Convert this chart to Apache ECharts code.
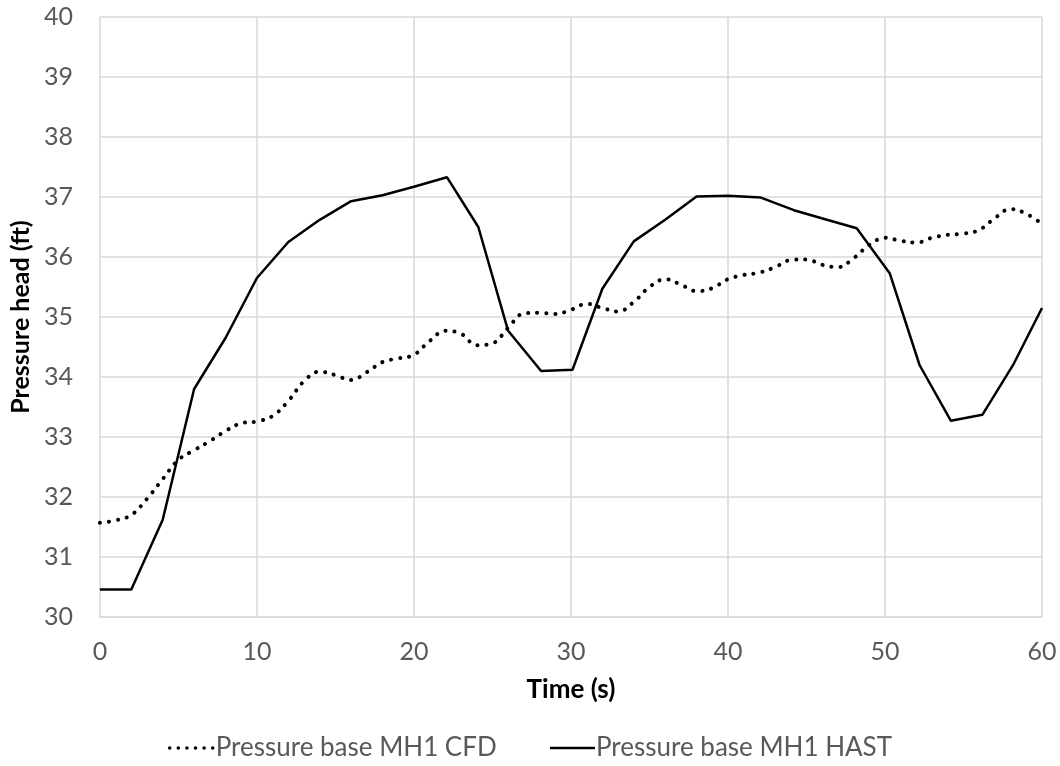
<!DOCTYPE html>
<html>
<head>
<meta charset="utf-8">
<script src="https://cdn.jsdelivr.net/npm/echarts@6/dist/echarts.min.js"></script>
<style>
  html, body { margin: 0; padding: 0; background: #fff; }
  #chart { width: 1060px; height: 766px; }
</style>
</head>
<body>
<div id="chart"></div>
<script>
// pressure head at the base of MH1, CFD vs HAST
const cfdTime = [0, 1, 2, 3, 4, 5, 6, 7, 8, 9, 10, 11, 12, 13, 14, 15, 16, 17, 18, 19, 20,
  21, 22, 23, 24, 25, 26, 27, 28, 29, 30, 31, 32, 33, 34, 35, 36, 37, 38, 39, 40,
  41, 42, 43, 44, 45, 46, 47, 48, 49, 50, 51, 52, 53, 54, 55, 56, 57, 58, 59, 60];
const cfdValue = [31.57, 31.61, 31.7, 31.97, 32.3, 32.62, 32.78, 32.93, 33.1, 33.23, 33.26,
  33.35, 33.6, 33.93, 34.09, 34.03, 33.95, 34.08, 34.25, 34.31, 34.37,
  34.6, 34.77, 34.72, 34.53, 34.56, 34.82, 35.06, 35.07, 35.05, 35.12,
  35.22, 35.15, 35.09, 35.25, 35.5, 35.63, 35.54, 35.43, 35.48, 35.63,
  35.7, 35.74, 35.83, 35.95, 35.96, 35.87, 35.83, 35.98, 36.2, 36.32,
  36.27, 36.24, 36.32, 36.37, 36.39, 36.45, 36.65, 36.8, 36.72, 36.55];

const hastTime = [0, 2, 4, 6, 8, 10, 12, 14, 16, 18, 20, 22.1, 24.1, 26, 28.1, 30.1,
  32, 34, 36, 38, 40, 42.1, 44.2, 46.3, 48.2, 50.3, 52.2, 54.2, 56.2, 58.2, 60];
const hastValue = [30.46, 30.46, 31.62, 33.8, 34.65, 35.65, 36.25, 36.62, 36.93, 37.03, 37.17,
  37.33, 36.5, 34.77, 34.1, 34.12, 35.47, 36.26, 36.62, 37.01, 37.02,
  36.99, 36.78, 36.62, 36.48, 35.73, 34.2, 33.27, 33.37, 34.22, 35.15];

const seriesNames = ["Pressure base MH1 CFD", "Pressure base MH1 HAST"];

const font = "Lato, 'Open Sans', sans-serif";
const pair = (xs, ys) => xs.map((x, i) => [x, ys[i]]);
const dotted = { color: "#000", width: 4, type: [0.1, 9], cap: "round" };
const solid = { color: "#000", width: 2.5 };

const chart = echarts.init(document.getElementById("chart"));
chart.setOption({
    animation: false,
    textStyle: { fontFamily: font },
    grid: { left: 98, right: 18, top: 17, bottom: 149 },
    legend: {
        bottom: 0,
        left: "center",
        itemWidth: 45,
        itemHeight: 12,
        itemGap: 52,
        itemStyle: { opacity: 0 },
        textStyle: { fontSize: 26, color: "#595959", fontFamily: font, padding: [0, 0, 0, -4] },
        data: [
            { name: seriesNames[0], lineStyle: { ...dotted, width: 3.5, type: [0.1, 8.5] } },
            { name: seriesNames[1], lineStyle: solid },
        ],
    },
    xAxis: {
        type: "value",
        min: 0,
        max: 60,
        interval: 10,
        name: "Time (s)",
        nameLocation: "middle",
        nameGap: 60,
        nameTextStyle: { fontSize: 26, fontWeight: "bold", color: "#000", fontFamily: font },
        axisLine: { show: true, lineStyle: { color: "#d9d9d9", width: 1.5 } },
        axisTick: { show: false },
        axisLabel: { fontSize: 25, color: "#595959", margin: 22, fontFamily: font },
        splitLine: { show: true, lineStyle: { color: "#d9d9d9", width: 1.5 } },
    },
    yAxis: {
        type: "value",
        min: 30,
        max: 40,
        interval: 1,
        name: "Pressure head (ft)",
        nameLocation: "middle",
        nameGap: 62,
        nameTextStyle: { fontSize: 25, fontWeight: "bold", color: "#000", fontFamily: font },
        axisLine: { show: false },
        axisTick: { show: false },
        axisLabel: { fontSize: 25, color: "#595959", margin: 27, fontFamily: font },
        splitLine: { show: true, lineStyle: { color: "#d9d9d9", width: 1.5 } },
    },
    series: [
        {
            name: seriesNames[0],
            type: "line",
            data: pair(cfdTime, cfdValue),
            smooth: 0.4,
            symbol: "none",
            lineStyle: dotted,
            itemStyle: { color: "#000" },
        },
        {
            name: seriesNames[1],
            type: "line",
            data: pair(hastTime, hastValue),
            symbol: "none",
            lineStyle: solid,
            itemStyle: { color: "#000" },
        },
    ],
});
</script>
</body>
</html>
